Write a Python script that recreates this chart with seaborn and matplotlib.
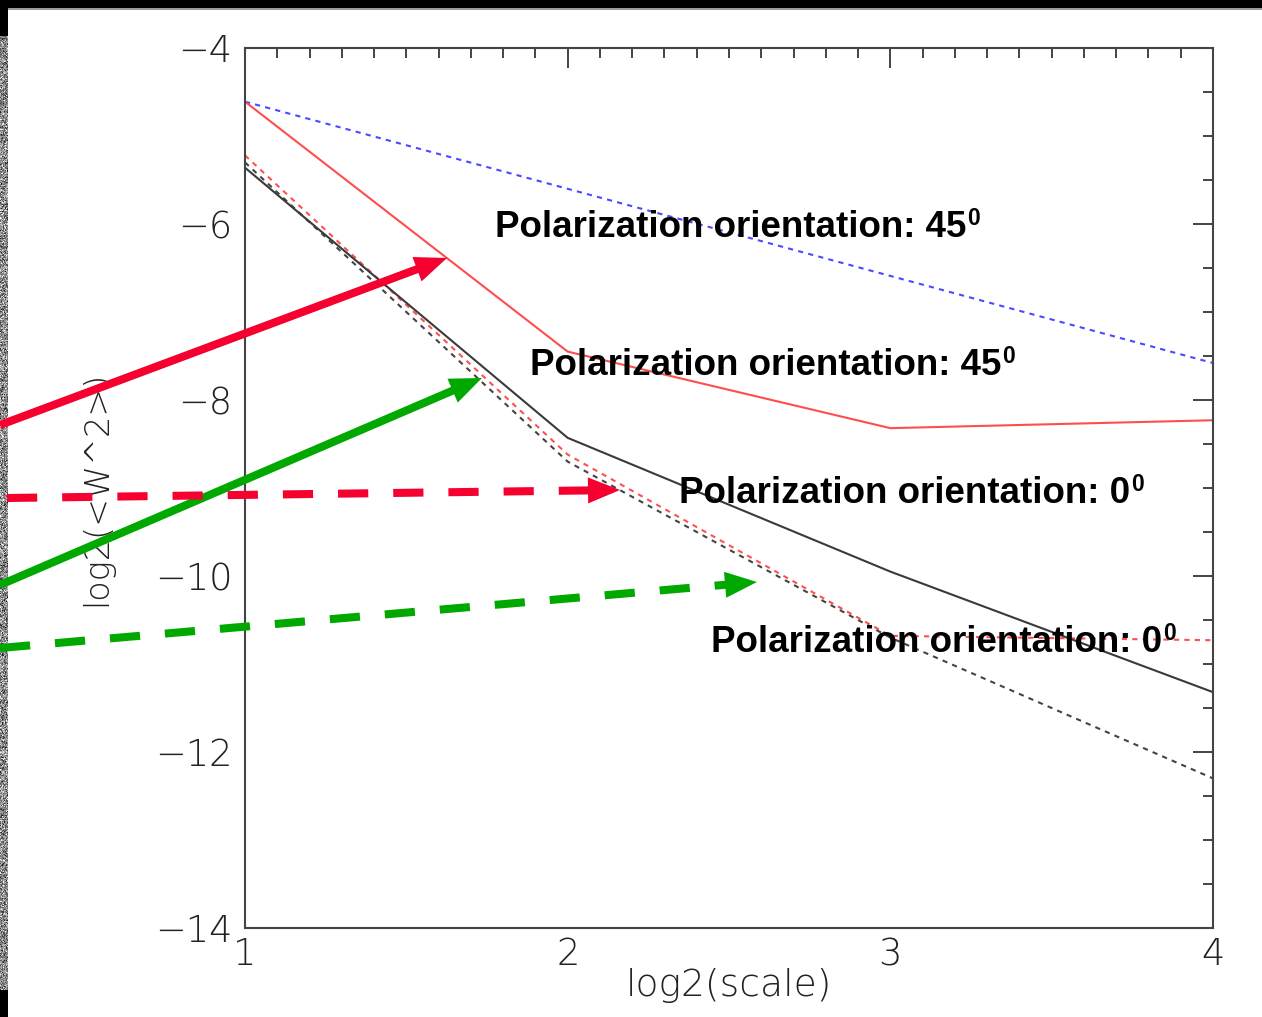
import numpy as np
import pandas as pd
import matplotlib
matplotlib.use("Agg")
import matplotlib.pyplot as plt
import seaborn as sns
from matplotlib.patches import Rectangle, Polygon
from matplotlib.lines import Line2D
from matplotlib.ticker import MultipleLocator

# ---- data: log2 of the wavelet variance against log2 of the scale ----
log2_scale = [1, 2, 3, 4]
blue_dotted = [-4.61, -5.60, -6.59, -7.58]
red_solid = [-4.61, -7.45, -8.32, -8.23]
black_solid = [-5.36, -8.43, -9.95, -11.32]
red_dashed = [-5.22, -8.62, -10.68, -10.73]
black_dashed = [-5.30, -8.70, -10.70, -12.30]

labels = [
    "Polarization orientation: 45",
    "Polarization orientation: 45",
    "Polarization orientation: 0",
    "Polarization orientation: 0",
]
degree_mark = "0"

W, H = 1262, 1017
sns.set_theme(style="white")
plt.rcParams["font.family"] = ["DejaVu Sans"]

fig = plt.figure(figsize=(W / 100, H / 100), dpi=100)
fig.patch.set_facecolor("white")
ax = fig.add_axes([245 / W, 1 - 928 / H, (1213 - 245) / W, (928 - 48) / H])
ax.set_facecolor("white")

series = [
    (blue_dotted, "#4a4aff", (2.5, 2.5)),
    (red_solid, "#ff4d4d", None),
    (red_dashed, "#ff5050", (2.5, 2.5)),
    (black_dashed, "#444444", (2.5, 2.5)),
    (black_solid, "#3a3a3a", None),
]
for vals, col, dash in series:
    df = pd.DataFrame({"x": log2_scale, "y": vals})
    sns.lineplot(data=df, x="x", y="y", ax=ax, color=col, lw=1.5, legend=False)
    line = ax.lines[-1]
    if dash is not None:
        line.set_dashes(dash)

ax.set_xlim(1, 4)
ax.set_ylim(-14, -4)
ax.xaxis.set_major_locator(MultipleLocator(1))
ax.xaxis.set_minor_locator(MultipleLocator(0.1))
ax.yaxis.set_major_locator(MultipleLocator(2))
ax.yaxis.set_minor_locator(MultipleLocator(0.5))
ax.tick_params(which="both", direction="in", top=True, right=True,
               color="#444444", width=1.4)
ax.tick_params(which="major", length=14.4)
ax.tick_params(which="minor", length=7.2)
ax.tick_params(axis="x", which="major", pad=6, labelsize=26.5, labelcolor="#222222")
ax.tick_params(axis="y", which="major", pad=9, labelsize=26.5, labelcolor="#222222")
for lab in ax.get_xticklabels() + ax.get_yticklabels():
    lab.set_fontweight("light")
for sp in ax.spines.values():
    sp.set_color("#444444")
    sp.set_linewidth(1.5)

ax.set_xlabel("log2(scale)", fontsize=27, color="#222222", labelpad=-3,
              fontweight="light")
ax.set_ylabel("log2(<W^2>)", fontsize=24, color="#222222", labelpad=30,
              fontweight="light")


def fx(px):
    return px / W


def fy(py):
    return 1 - py / H


# annotation texts with a raised degree-style zero
renderer = fig.canvas.get_renderer()
text_pos = [(495, 237), (530, 375), (679, 503), (711, 652)]
for (px, py), s in zip(text_pos, labels):
    t = fig.text(fx(px), fy(py), s, fontsize=26.5, fontweight="bold",
                 family=["Liberation Sans", "DejaVu Sans"], color="black",
                 va="baseline", ha="left", zorder=10)
    bb = t.get_window_extent(renderer)
    fig.text((bb.x1 + 1) / W, fy(py - 12), degree_mark, fontsize=16.5,
             fontweight="bold", family=["Liberation Sans", "DejaVu Sans"],
             color="black", va="baseline", ha="left", zorder=10)


# pointer arrows
def pointer(x0, y0, x1, y1, color, dashed):
    p0 = np.array([x0, y0], float)
    p1 = np.array([x1, y1], float)
    u = (p1 - p0) / np.linalg.norm(p1 - p0)
    n = np.array([-u[1], u[0]])
    hl, hw = 32.0, 13.0
    base = p1 - hl * u
    tri = [p1, base + hw * n, base - hw * n]
    shaft_end = base + 2 * u
    ln = Line2D([fx(p0[0]), fx(shaft_end[0])], [fy(p0[1]), fy(shaft_end[1])],
                transform=fig.transFigure, color=color, lw=5.8,
                solid_capstyle="butt", dash_capstyle="butt", zorder=12)
    if dashed:
        ln.set_dashes((3.75, 3.1))
    fig.add_artist(ln)
    fig.add_artist(Polygon([(fx(a), fy(b)) for a, b in tri], closed=True,
                           transform=fig.transFigure, facecolor=color,
                           edgecolor="none", zorder=12))


red = "#f5002f"
green = "#00a800"
pointer(0, 425, 447, 258, red, False)
pointer(0, 585, 482, 378, green, False)
pointer(7, 498, 620, 490, red, True)
pointer(0, 648, 757, 582, green, True)

# frame: black band on top and textured strip on the left edge
fig.add_artist(Rectangle((0, fy(8)), 1, 8 / H, transform=fig.transFigure,
                         facecolor="black", edgecolor="none", zorder=20))
fig.add_artist(Rectangle((0, fy(10)), 1, 2 / H, transform=fig.transFigure,
                         facecolor="#9a9a9a", edgecolor="none", zorder=20))
fig.add_artist(Rectangle((0, fy(36)), 8 / W, 36 / H, transform=fig.transFigure,
                         facecolor="black", edgecolor="none", zorder=20))
fig.add_artist(Rectangle((0, 0), 8 / W, (H - 990) / H, transform=fig.transFigure,
                         facecolor="black", edgecolor="none", zorder=20))
rng = np.random.default_rng(7)
tex = rng.normal(0.55, 0.2, size=(990 - 36, 8)).clip(0.1, 1.0)
fig.figimage(np.dstack([tex, tex, tex]), xo=0, yo=H - 990, zorder=5)

fig.savefig("out.png", dpi=100, facecolor="white")
